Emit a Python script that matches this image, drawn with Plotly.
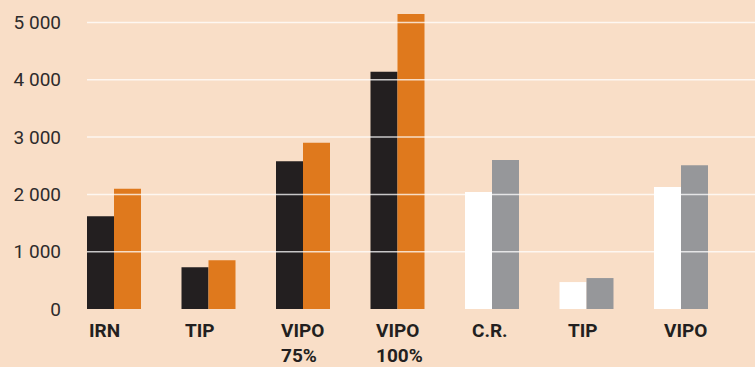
import plotly.graph_objects as go

categories = ["IRN", "TIP", "VIPO<br>75%", "VIPO<br>100%", "C.R.", "TIP", "VIPO"]
series_a = [1620, 730, 2580, 4140, 2040, 470, 2130]
series_b = [2100, 850, 2900, 5150, 2600, 540, 2510]
colors_a = ["#231F20"] * 4 + ["#FFFFFF"] * 3
colors_b = ["#DF791D"] * 4 + ["#96979A"] * 3
tick_vals = [0, 1000, 2000, 3000, 4000, 5000]
tick_text = ["0", "1 000", "2 000", "3 000", "4 000", "5 000"]

BG = "#F9DEC7"
FONT = "Roboto, Liberation Sans, sans-serif"

xs = list(range(len(categories)))
bw = 0.2857

fig = go.Figure()
fig.add_trace(go.Bar(x=xs, y=series_a, width=bw, offset=-bw,
                     marker=dict(color=colors_a, line=dict(width=0)), showlegend=False))
fig.add_trace(go.Bar(x=xs, y=series_b, width=bw, offset=0,
                     marker=dict(color=colors_b, line=dict(width=0)), showlegend=False))

for v in tick_vals[1:]:
    fig.add_shape(type="line", xref="paper", x0=0, x1=1, yref="y", y0=v, y1=v,
                  layer="above", line=dict(color="rgba(255,255,255,0.75)", width=1.5))

for i, c in enumerate(categories):
    fig.add_annotation(x=i - bw, xref="x", y=0, yref="paper", text="<b>" + c + "</b>",
                       showarrow=False, xanchor="left", yanchor="top", align="left",
                       xshift=1 + 1.3 * i, yshift=-9, borderpad=0,
                       font=dict(family=FONT, size=19, color="#231F20"))

fig.update_layout(
    width=755, height=367,
    margin=dict(l=87, r=0, t=0, b=58, pad=0),
    paper_bgcolor=BG, plot_bgcolor=BG,
    barmode="overlay",
    xaxis=dict(range=[-bw, 6.783], showgrid=False, zeroline=False, showticklabels=False,
               showline=False, fixedrange=True),
    yaxis=dict(range=[0, 5393], tickvals=tick_vals, ticktext=tick_text, showgrid=False,
               zeroline=False, showline=False, ticks="", ticklabelstandoff=25,
               tickfont=dict(family=FONT, size=19, color="#2E2B2C")),
)

fig.write_html("out.html")
